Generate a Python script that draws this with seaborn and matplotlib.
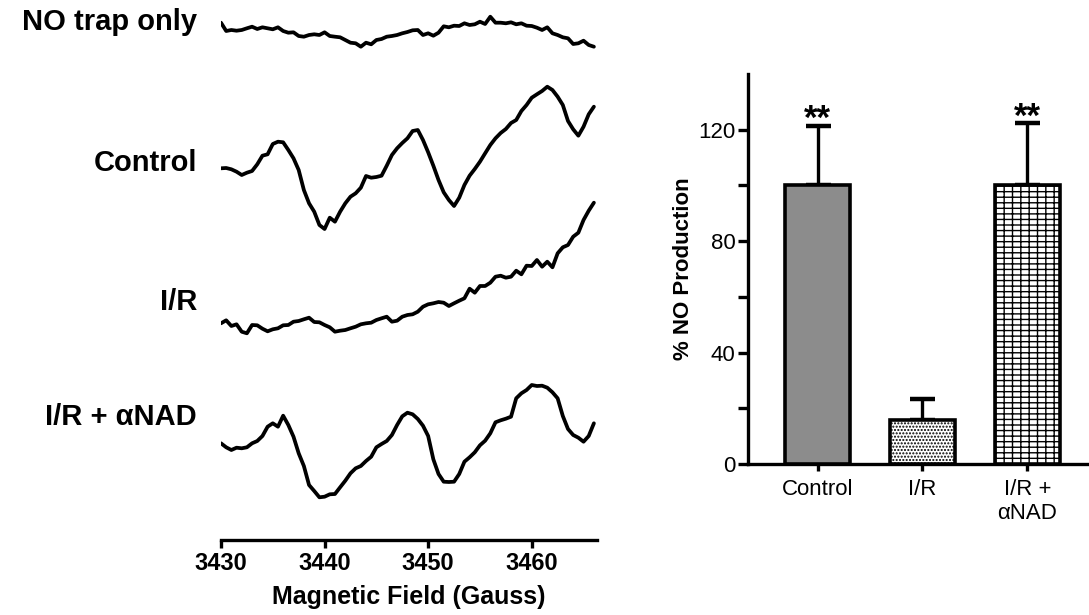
import numpy as np
import pandas as pd
import matplotlib
matplotlib.use("Agg")
import matplotlib.pyplot as plt
import seaborn as sns

# ---------------- data ----------------
# EPR magnetic field sampling points (Gauss)
field = [3430.0, 3430.5, 3431.0, 3431.5, 3432.0, 3432.5, 3433.0, 3433.5, 3434.0, 3434.5,
         3435.0, 3435.5, 3436.0, 3436.5, 3437.0, 3437.5, 3438.0, 3438.5, 3439.0, 3439.5,
         3440.0, 3440.5, 3441.0, 3441.5, 3442.0, 3442.5, 3443.0, 3443.5, 3444.0, 3444.5,
         3445.0, 3445.5, 3446.0, 3446.5, 3447.0, 3447.5, 3448.0, 3448.5, 3449.0, 3449.5,
         3450.0, 3450.5, 3451.0, 3451.5, 3452.0, 3452.5, 3453.0, 3453.5, 3454.0, 3454.5,
         3455.0, 3455.5, 3456.0, 3456.5, 3457.0, 3457.5, 3458.0, 3458.5, 3459.0, 3459.5,
         3460.0, 3460.5, 3461.0, 3461.5, 3462.0, 3462.5, 3463.0, 3463.5, 3464.0, 3464.5,
         3465.0, 3465.5, 3466.0]

trace_names = ["NO trap only", "Control", "I/R", "I/R + \u03b1NAD"]

no_trap = [12.3, 4, 5, 4.3, 5, 6.7, 8.3, 6, 7.7, 6.7, 5.7, 7.7, 4, 2.3, 2.7, -1, -1.7, 0, 0.7, 0,
           2.7, -1, -1.7, -2.3, -5, -7.7, -8.3, -11.7, -7.7, -9.3, -5, -4, -1.7, -1, 0, 1.7, 3, 4.7,
           5, 0, 1.7, -0.7, 2.3, 8.7, 7.7, 9.3, 9, 11.7, 10, 10.7, 13.3, 11, 18.3, 12.3, 12.3, 11.7,
           12.7, 10.7, 11.7, 9.3, 9, 7.3, 5, 7.7, 1.7, 0, -2.3, -3.3, -9, -8.3, -5.7, -10, -11.7]

control_epr = [1.7, 2, 0.7, -1.7, -5, -2.7, -1, 5.7, 14.3, 15.7, 26, 28.3, 27.7, 20, 11.7, 0, -20,
               -33.3, -41.7, -55, -59, -47.7, -51.7, -41.7, -33.3, -26.7, -23.3, -17.7, -6, -7.7,
               -7, -5.7, 4.3, 15, 21.7, 27, 31.7, 39, 40, 30, 17.7, 4.3, -10, -22.3, -30, -36,
               -27.7, -15, -5.7, 1, 8.3, 16.7, 25, 31.7, 37, 41, 47, 50, 59, 65, 72.3, 75.7, 79,
               83.3, 80, 73.3, 65, 49, 40.7, 34.3, 43.3, 55.7, 63.3]

ir_epr = [1.7, 4.7, -1, 0.7, -6.7, -8.3, 0, -0.3, -3.7, -6.3, -4.3, -3.3, -0.3, 0, 3.3, 4, 5.7,
          7.3, 3, 2.7, 0, -2.3, -6.7, -5.7, -5, -3.3, -1.7, 0.7, 1.7, 2.3, 5, 6.7, 8.3, 3.3, 4.3,
          8.3, 10, 10.7, 13.3, 18.3, 20.7, 21.7, 23, 22.3, 19, 21.7, 24.3, 26.7, 36.3, 32.3, 39,
          39, 42.3, 48.3, 49.3, 47.3, 48.3, 54.3, 50.7, 59.3, 59, 65, 58.3, 63.3, 57.7, 71.7,
          77.7, 80, 88.3, 92.3, 105, 114.3, 122.3]

ir_anad_epr = [1.7, -2.3, -5, -2.7, -3.3, -2.3, 1.7, 4, 9, 18.3, 21.7, 18.3, 29.3, 20, 8.3, -8.3,
               -21, -40, -46, -52.3, -51.7, -49.3, -49, -42.3, -35.7, -28.3, -23.3, -21, -16,
               -11.7, -2.3, 1, 4, 10, 20, 28.7, 32.3, 30.7, 26, 19.3, 9, -14.3, -29, -36.7, -37,
               -36.7, -29, -16.7, -12.3, -7.3, -0.3, 4.3, 11.7, 22.7, 24.7, 26.3, 28.3, 46.7,
               51.7, 55, 60, 59, 59.3, 57.3, 52.7, 46.7, 29, 16, 10, 7.3, 3.3, 9, 21.7]

field_ticks = [3430, 3440, 3450, 3460]

bar_categories = ["Control", "I/R", "I/R +\n\u03b1NAD"]
bar_means = [100, 15.7, 100]
bar_sem = [21.5, 7.5, 22.3]
bar_marks = ["**", "", "**"]
pct_ticks = [0, 40, 80, 120]
pct_minor = [20, 60, 100]

# ---------------- style ----------------
sns.set_style("ticks")
plt.rcParams["font.family"] = ["Liberation Sans", "DejaVu Sans"]
plt.rcParams["hatch.linewidth"] = 1.0
for k in ["text.color", "axes.labelcolor", "axes.edgecolor", "xtick.color", "ytick.color"]:
    plt.rcParams[k] = "black"

W, H = 1089, 615
fig = plt.figure(figsize=(W / 100, H / 100), dpi=100)

# ---------------- left panel: EPR spectra ----------------
axL = fig.add_axes([221 / W, (H - 540) / H, (597 - 221) / W, 540 / H])
offsets = [505, 370, 215, 95]
label_y = [22, 163, 302, 417]
for name, sig, off, ly in zip(trace_names, [no_trap, control_epr, ir_epr, ir_anad_epr], offsets, label_y):
    df = pd.DataFrame({"field": field, "signal": np.asarray(sig) + off})
    sns.lineplot(data=df, x="field", y="signal", ax=axL, color="black", lw=2.7,
                 estimator=None, sort=False)
    fig.text(197 / W, 1 - ly / H, name, ha="right", va="center", fontsize=21, fontweight="bold")

axL.set_xlim(3430, 3466.3)
axL.set_ylim(0, 540)
for s in ["left", "top", "right"]:
    axL.spines[s].set_visible(False)
axL.spines["bottom"].set_linewidth(2.4)
axL.set_yticks([])
axL.set_ylabel("")
axL.set_xticks(field_ticks)
axL.set_xticklabels([str(t) for t in field_ticks], fontsize=17, fontweight="bold")
axL.tick_params(axis="x", length=6, width=2.4, pad=3, direction="out")
axL.set_xlabel("Magnetic Field (Gauss)", fontsize=18, fontweight="bold", labelpad=7)

# ---------------- right panel: bar chart ----------------
axR = fig.add_axes([748 / W, (H - 464) / H, (W - 748) / W, (464 - 74) / H])
bdf = pd.DataFrame({"group": bar_categories, "pct": bar_means})
sns.barplot(data=bdf, x="group", y="pct", hue="group", order=bar_categories,
            palette=["#8c8c8c", "white", "white"], legend=False, errorbar=None,
            width=0.62, edgecolor="black", linewidth=2.6, ax=axR, zorder=3)
hatches = ["", ".....", "---||"]
for p, h in zip(axR.patches, hatches):
    p.set_hatch(h)

xs = np.arange(len(bar_categories))
axR.errorbar(xs, bar_means, yerr=[np.zeros(len(bar_sem)), bar_sem], fmt="none",
             ecolor="black", elinewidth=2.4, capsize=9, capthick=3.2, zorder=2)
for x, m, e, mk in zip(xs, bar_means, bar_sem, bar_marks):
    if mk:
        axR.text(x, m + e - 1.3, mk, ha="center", va="baseline", fontsize=25,
                 fontweight="bold", zorder=4)

axR.set_xlim(-0.662, 2.586)
axR.set_ylim(0, 140)
axR.spines["top"].set_visible(False)
axR.spines["right"].set_visible(False)
axR.spines["left"].set_linewidth(2.4)
axR.spines["bottom"].set_linewidth(2.4)
axR.set_yticks(pct_ticks)
axR.set_yticks(pct_minor, minor=True)
axR.set_yticklabels([str(t) for t in pct_ticks], fontsize=16)
axR.tick_params(axis="y", which="both", length=7, width=2.4, pad=2)
axR.tick_params(axis="x", length=5, width=2.4, pad=6, labelsize=16)
axR.set_xlabel("")
axR.set_ylabel("% NO Production", fontsize=16, fontweight="bold", labelpad=3)

fig.savefig("out.png", dpi=100)
